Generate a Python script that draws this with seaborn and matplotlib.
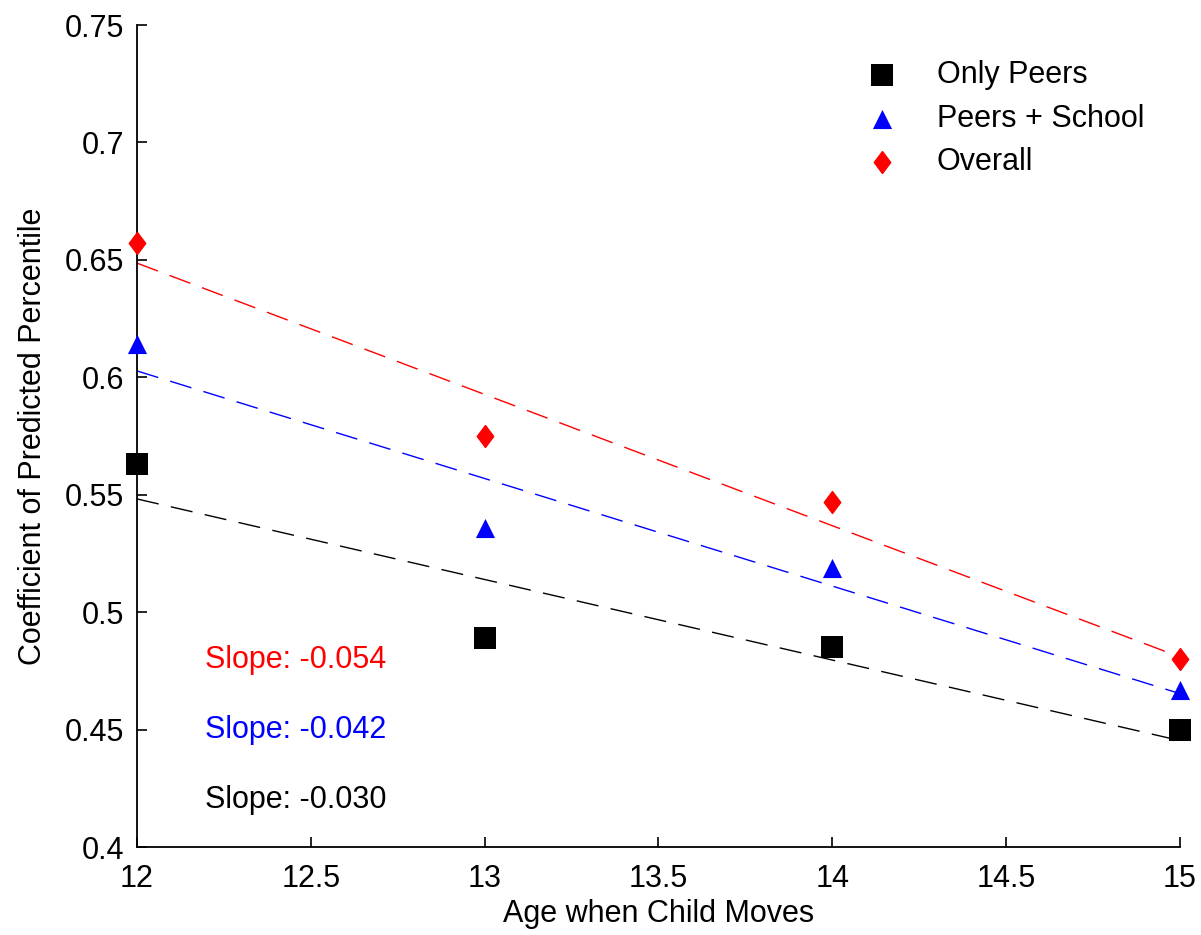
import matplotlib
matplotlib.use("Agg")
import matplotlib.pyplot as plt
import seaborn as sns
import numpy as np

# ---- data ----
ages = [12, 13, 14, 15]
only_peers = [0.563, 0.489, 0.485, 0.450]
peers_school = [0.614, 0.536, 0.519, 0.467]
overall = [0.657, 0.575, 0.547, 0.480]
series_names = ["Only Peers", "Peers + School", "Overall"]
slope_labels = ["Slope: -0.054", "Slope: -0.042", "Slope: -0.030"]
x_ticks = [12, 12.5, 13, 13.5, 14, 14.5, 15]
y_ticks = [0.4, 0.45, 0.5, 0.55, 0.6, 0.65, 0.7, 0.75]

sns.set_style("white")
plt.rcParams["font.family"] = ["Liberation Sans", "DejaVu Sans"]
plt.rcParams["font.size"] = 22
plt.rcParams["text.color"] = "black"
plt.rcParams["axes.labelcolor"] = "black"

fig = plt.figure(figsize=(12.01, 9.35), dpi=100)
ax = fig.add_axes([137/1201, 1-847/935, (1180-137)/1201, (847-25)/935])

values = [only_peers, peers_school, overall]
colors = ["#000000", "#0000ff", "#ff0000"]
diamond = [(0, 1), (0.75, 0), (0, -1), (-0.75, 0), (0, 1)]
markers = ["s", "^", diamond]
sizes = [250, 190, 250]
edge_w = [0, 0, 1.0]

for vals, col in zip(values, colors):
    sns.regplot(x=np.array(ages, float), y=np.array(vals), scatter=False, ci=None,
                color=col, ax=ax, truncate=True,
                line_kws=dict(ls=(0, (16, 9)), lw=1.0))

for vals, col, mk, sz, ew, name in zip(values, colors, markers, sizes, edge_w, series_names):
    sns.scatterplot(x=ages, y=vals, marker=mk, color=col, s=sz, linewidth=ew,
                    edgecolor=col, label=name, ax=ax, zorder=5, clip_on=False)

ax.set_xlim(12, 15)
ax.set_ylim(0.4, 0.75)
ax.set_xticks(x_ticks)
ax.set_xticklabels([f"{t:g}" for t in x_ticks])
ax.set_yticks(y_ticks)
ax.set_yticklabels([f"{t:g}" for t in y_ticks])
ax.tick_params(direction="in", length=7, width=1.2, labelsize=22,
               left=True, bottom=True, colors="black")
ax.tick_params(axis="x", pad=12)
ax.tick_params(axis="y", pad=9)
for s in ["top", "right"]:
    ax.spines[s].set_visible(False)
for s in ["left", "bottom"]:
    ax.spines[s].set_color("black")
    ax.spines[s].set_linewidth(1.3)

ax.set_xlabel("Age when Child Moves", fontsize=22, labelpad=4)
ax.set_ylabel("Coefficient of Predicted Percentile", fontsize=22, labelpad=12)

# slope annotations
slope_y = [0.4796, 0.450, 0.420]
for lbl, col, yv in zip(slope_labels, ["#ff0000", "#0000ff", "#000000"], slope_y):
    ax.text(12.196, yv, lbl, color=col, fontsize=22, ha="left", va="center")

leg = ax.legend(loc="upper left", bbox_to_anchor=(859/1201, 1-60/935),
                bbox_transform=fig.transFigure, frameon=False, borderpad=0,
                borderaxespad=0, handlelength=1.5, handletextpad=1.04,
                labelspacing=0.45, fontsize=22, scatterpoints=1)
for t in leg.get_texts():
    t.set_color("black")

fig.savefig("out.png", dpi=100)
